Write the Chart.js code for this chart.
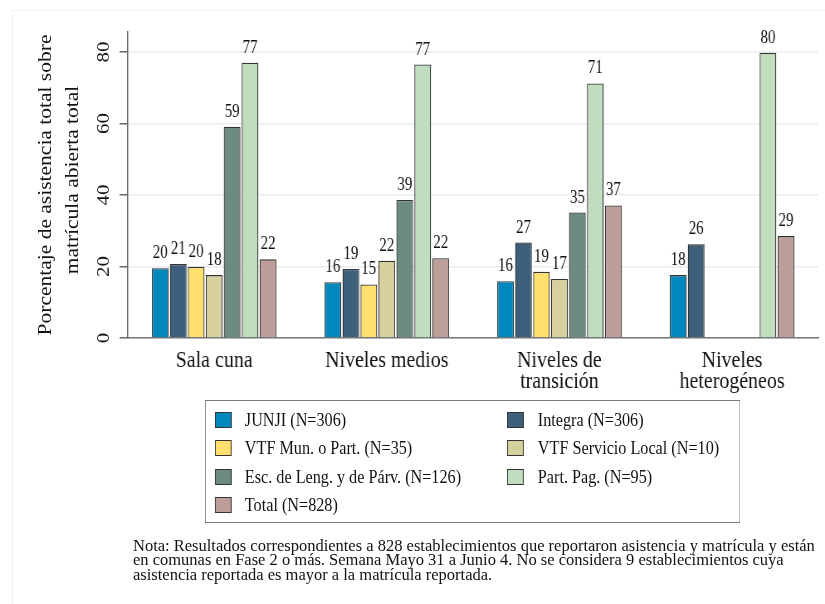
<!DOCTYPE html>
<html><head><meta charset="utf-8">
<script src="https://cdn.jsdelivr.net/npm/chart.js@4/dist/chart.umd.min.js"></script>
<style>
html,body{margin:0;padding:0;background:#fff;width:825px;height:604px;overflow:hidden;}
#frameTop{position:absolute;left:12px;top:10px;width:813px;height:1px;background:#f1f1f1;}
#frameLeft{position:absolute;left:12px;top:10px;width:1px;height:594px;background:#f1f1f1;}
#wrap{position:absolute;left:0;top:0;width:994px;height:604px;transform:scaleX(0.83);transform-origin:0 0;font-family:'Liberation Serif','Times New Roman',serif;color:#111;}
#c{position:absolute;left:0;top:0;}
.ytitle{position:absolute;width:400px;height:24px;text-align:center;font-size:21.5px;line-height:24px;transform:rotate(-90deg);white-space:nowrap;}
#legendbox{position:absolute;left:247px;top:400px;width:645px;height:123px;border:1.5px solid #7a7a7a;box-sizing:border-box;}
.li{position:absolute;font-size:19.5px;line-height:22px;white-space:nowrap;}
.sw{position:absolute;width:20px;height:16px;border:1.3px solid #333;box-sizing:border-box;}
#note{position:absolute;left:133px;top:539px;font-family:'Liberation Serif','Times New Roman',serif;font-size:16.5px;line-height:14.3px;white-space:nowrap;color:#111;}
</style></head>
<body>
<div id="frameTop"></div>
<div id="frameLeft"></div>
<div id="wrap">
<canvas id="c" width="994" height="604"></canvas>
<div class="ytitle" style="left:-144.6px;top:173px;">Porcentaje de asistencia total sobre</div>
<div class="ytitle" style="left:-113.3px;top:168px;">matrícula abierta total</div>
<div id="legendbox"></div>
<div id="legend"></div>
</div>
<div id="note">Nota: Resultados correspondientes a 828 establecimientos que reportaron asistencia y matrícula y están<br>en comunas en Fase 2 o más. Semana Mayo 31 a Junio 4. No se considera 9 establecimientos cuya<br>asistencia reportada es mayor a la matrícula reportada.</div>
<script>
// ---- data ----
const categories = [["Sala cuna"], ["Niveles medios"], ["Niveles de", "transición"], ["Niveles", "heterogéneos"]];
const seriesNames = ["JUNJI (N=306)", "Integra (N=306)", "VTF Mun. o Part. (N=35)", "VTF Servicio Local (N=10)", "Esc. de Leng. y de Párv. (N=126)", "Part. Pag. (N=95)", "Total (N=828)"];
const junji    = [19.5, 15.6, 15.9, 17.6];
const integra  = [20.7, 19.3, 26.7, 26.2];
const vtfMun   = [19.9, 15.0, 18.5, null];
const vtfLocal = [17.6, 21.6, 16.5, null];
const escLeng  = [59.1, 38.6, 35.1, null];
const partPag  = [77.0, 76.5, 71.2, 79.8];
const total    = [22.0, 22.3, 37.1, 28.5];
const yTicks   = [0, 20, 40, 60, 80];

// ---- styles ----
const series = [junji, integra, vtfMun, vtfLocal, escLeng, partPag, total];
const colors = ["#0088bd", "#3e5f7b", "#ffe06c", "#d7d19e", "#6d8c7f", "#c1ddc0", "#bd9e99"];
const SERIF = "'Liberation Serif', 'Times New Roman', serif";

// legend (HTML)
const legend = document.getElementById('legend');
const colSw = [259, 610.5], colTx = [295, 648], rowCy = [419.5, 448, 476.5, 505];
seriesNames.forEach((name, i) => {
  const col = i % 2, row = Math.floor(i / 2);
  const sw = document.createElement('div');
  sw.className = 'sw';
  sw.style.left = colSw[col] + 'px';
  sw.style.top = (rowCy[row] - 8) + 'px';
  sw.style.background = colors[i];
  legend.appendChild(sw);
  const tx = document.createElement('div');
  tx.className = 'li';
  tx.style.left = colTx[col] + 'px';
  tx.style.top = (rowCy[row] - 11) + 'px';
  tx.textContent = name;
  legend.appendChild(tx);
});

const valueLabels = {
  id: 'valueLabels',
  afterDatasetsDraw(chart) {
    const ctx = chart.ctx;
    ctx.save();
    ctx.font = "18px " + SERIF;
    ctx.fillStyle = '#111';
    ctx.textAlign = 'center';
    ctx.textBaseline = 'alphabetic';
    chart.data.datasets.forEach((ds, di) => {
      const meta = chart.getDatasetMeta(di);
      meta.data.forEach((el, i) => {
        const v = ds.data[i];
        if (v === null || v === undefined) return;
        ctx.fillText(String(Math.round(v)), el.x, el.y - 10);
      });
    });
    ctx.restore();
  }
};

new Chart(document.getElementById('c'), {
  type: 'bar',
  data: {
    labels: categories,
    datasets: series.map((d, i) => ({
      label: seriesNames[i], data: d,
      backgroundColor: colors[i], borderColor: '#333', borderWidth: 1.3,
      categoryPercentage: 0.728, barPercentage: 0.93
    }))
  },
  options: {
    responsive: false, animation: false, devicePixelRatio: 1,
    layout: { padding: { left: 94, right: 8, top: 32, bottom: 206 } },
    plugins: { legend: { display: false }, tooltip: { enabled: false } },
    scales: {
      x: {
        grid: { display: false, drawTicks: false },
        border: { display: true, color: '#777', width: 1.5 },
        ticks: { font: { family: SERIF, size: 24, lineHeight: '21px' }, color: '#111', padding: 12, maxRotation: 0, minRotation: 0, autoSkip: false },
        afterFit: s => { s.height = 60; }
      },
      y: {
        min: 0, max: 85.6,
        afterBuildTicks: s => { s.ticks = yTicks.map(v => ({ value: v })); },
        grid: { color: '#e5edf1', lineWidth: 1.5, tickColor: '#666', tickLength: 10, drawTicks: true },
        border: { color: '#666', width: 1.5 },
        ticks: { minRotation: 90, maxRotation: 90, crossAlign: 'center', padding: 8, font: { family: SERIF, size: 21 }, color: '#111' },
        afterFit: s => { s.width = 60; }
      }
    }
  },
  plugins: [valueLabels]
});
</script>
</body></html>
